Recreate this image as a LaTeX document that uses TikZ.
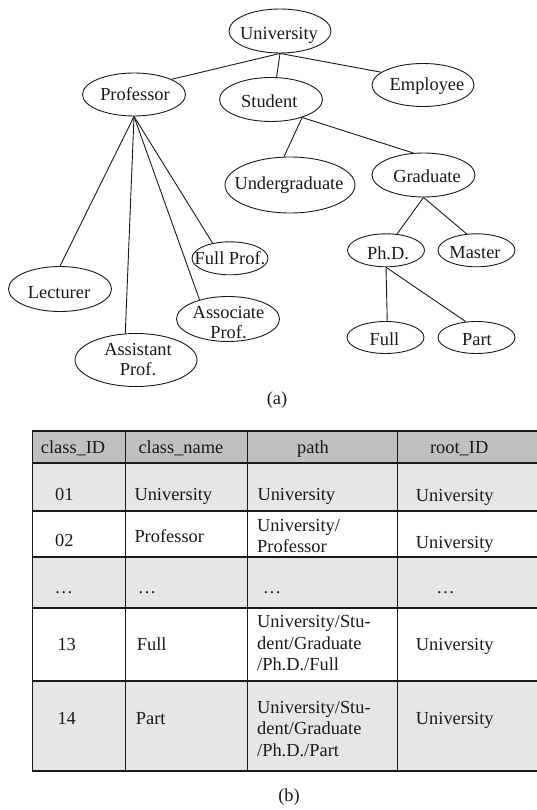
\documentclass[tikz,border=0pt]{standalone}
\usepackage{fontspec}
\setmainfont{Liberation Serif}
\usetikzlibrary{shapes.geometric}
\newcommand{\treefont}{\fontsize{18.4}{20.5}\selectfont}
\newcommand{\tabfont}{\fontsize{18.4}{21.5}\selectfont}
\definecolor{hdrgray}{HTML}{C0C0C0}
\definecolor{rowgray}{HTML}{E6E6E6}
\definecolor{ink}{HTML}{1A1A1A}
\tikzset{
  cls/.style={draw=ink, ellipse, inner sep=0pt, line width=0.9pt},
  ctext/.style={inner sep=0pt, anchor=base, font=\treefont, text=ink},
  link/.style={draw=ink, line width=0.9pt},
  cell/.style={inner sep=0pt, anchor=base west, font=\tabfont, text=ink},
  cellc/.style={inner sep=0pt, anchor=base, font=\tabfont, text=ink},
  grid/.style={draw=ink, line width=1.3pt},
}
\begin{document}
\begin{tikzpicture}[x=1pt, y=-1pt]
\fill[white] (0,0) rectangle (537,810);
\useasboundingbox (0,0) rectangle (537,810);

% ---------------- class hierarchy ----------------
\node[cls, minimum width=102, minimum height=44] (univ) at (280,31) {};
\node[cls, minimum width=103, minimum height=43] (prof) at (134,94.5) {};
\node[cls, minimum width=103, minimum height=44] (student) at (271,99.5) {};
\node[cls, minimum width=102, minimum height=43] (employee) at (423,85) {};
\node[cls, minimum width=130, minimum height=56] (under) at (290,185) {};
\node[cls, minimum width=103, minimum height=44] (grad) at (423.5,175) {};
\node[cls, minimum width=77, minimum height=33] (phd) at (386,250.3) {};
\node[cls, minimum width=77, minimum height=33] (master) at (476.5,250.3) {};
\node[cls, minimum width=77, minimum height=32] (full) at (385.5,337.5) {};
\node[cls, minimum width=77, minimum height=32] (part) at (476.5,337.5) {};
\node[cls, minimum width=76, minimum height=33] (fullprof) at (230,258.3) {};
\node[cls, minimum width=103, minimum height=45] (lect) at (60,289) {};
\node[cls, minimum width=103, minimum height=45] (assoc) at (228,319) {};
\node[cls, minimum width=122, minimum height=53] (asst) at (136,360) {};

\node[ctext] (univ-t) at (279,39.4) {University};
\node[ctext] (prof-t) at (135,100.4) {Professor};
\node[ctext] (student-t) at (269.3,107.8) {Student};
\node[ctext] (employee-t) at (427,91) {Employee};
\node[ctext] (under-t) at (289,190) {Undergraduate};
\node[ctext] (grad-t) at (427,182.8) {Graduate};
\node[ctext] (phd-t) at (388,259) {Ph.D.};
\node[ctext] (master-t) at (475,258) {Master};
\node[ctext] (full-t) at (384.5,345) {Full};
\node[ctext] (part-t) at (477,345) {Part};
\node[ctext] (fullprof-t) at (230,264.4) {Full Prof.};
\node[ctext] (lect-t) at (59,298.4) {Lecturer};
\node[ctext] (assoc-t) at (228.5,318) {\begin{tabular}[t]{@{}c@{}}Associate\\Prof.\end{tabular}};
\node[ctext] (asst-t) at (138,355) {\begin{tabular}[t]{@{}c@{}}Assistant\\Prof.\end{tabular}};

\draw[link] (univ.south) -- (prof.22);
\draw[link] (univ.south) -- (student.76);
\draw[link] (univ.south) -- (employee.163);
\draw[link] (student.-30) -- (under.102);
\draw[link] (student.-30) -- (grad.115);
\draw[link] (grad.south) -- (phd.56);
\draw[link] (grad.south) -- (master.121);
\draw[link] (phd.south) -- (full.84);
\draw[link] (phd.south) -- (part.124);
\draw[link] (prof.south) -- (lect.north);
\draw[link] (prof.south) -- (asst.112);
\draw[link] (prof.south) -- (assoc.146);
\draw[link] (prof.south) -- (fullprof.139);

\node[ctext] (cap-a) at (277,404.3) {(a)};

% ---------------- class table ----------------
\fill[hdrgray] (32.3,431) rectangle (537,463);
\fill[rowgray] (32.3,463) rectangle (537,511);
\fill[rowgray] (32.3,557) rectangle (537,608);
\fill[rowgray] (32.3,681) rectangle (537,771);

\foreach \yy in {431,463,511,557,608,681}
  \draw[grid] (32.3,\yy) -- (537,\yy);
\draw[draw=ink, line width=2.4pt] (31.6,771) -- (537,771);
\foreach \xx in {32.3,125.7,247.7,397.7}
  \draw[grid] (\xx,431) -- (\xx,771);

% header
\node[cell] (h1) at (40.7,453.3) {class\_ID};
\node[cell] (h2) at (138.3,453.3) {class\_name};
\node[cellc] (h3) at (313,453.3) {path};
\node[cellc] (h4) at (459.2,453.3) {root\_ID};

% row 01
\node[cell] (r1a) at (55,500) {01};
\node[cell] (r1b) at (134.3,500) {University};
\node[cell] (r1c) at (257.3,500) {University};
\node[cell] (r1d) at (415.7,501) {University};

% row 02
\node[cell] (r2a) at (55,546.7) {02};
\node[cell] (r2b) at (134.3,542.7) {Professor};
\node[cell] (r2c) at (257,531) {\begin{tabular}[t]{@{}l@{}}University/\\Professor\end{tabular}};
\node[cell] (r2d) at (415.7,548) {University};

% elided rows
\node[cellc] (r3a) at (63.7,593.3) {…};
\node[cellc] (r3b) at (147,593.3) {…};
\node[cellc] (r3c) at (272,593.3) {…};
\node[cellc] (r3d) at (445.5,593.3) {…};

% row 13
\node[cell] (r4a) at (57.3,650) {13};
\node[cell] (r4b) at (136.7,650) {Full};
\node[cell] (r4c) at (257,627.5) {\begin{tabular}[t]{@{}l@{}}University/Stu-\\dent/Graduate\\/Ph.D./Full\end{tabular}};
\node[cell] (r4d) at (415.7,650) {University};

% row 14
\node[cell] (r5a) at (57.3,724.5) {14};
\node[cell] (r5b) at (135.7,724.5) {Part};
\node[cell] (r5c) at (257,713) {\begin{tabular}[t]{@{}l@{}}University/Stu-\\dent/Graduate\\/Ph.D./Part\end{tabular}};
\node[cell] (r5d) at (415.7,724.5) {University};

\node[ctext] (cap-b) at (289,801) {(b)};
\end{tikzpicture}
\end{document}
